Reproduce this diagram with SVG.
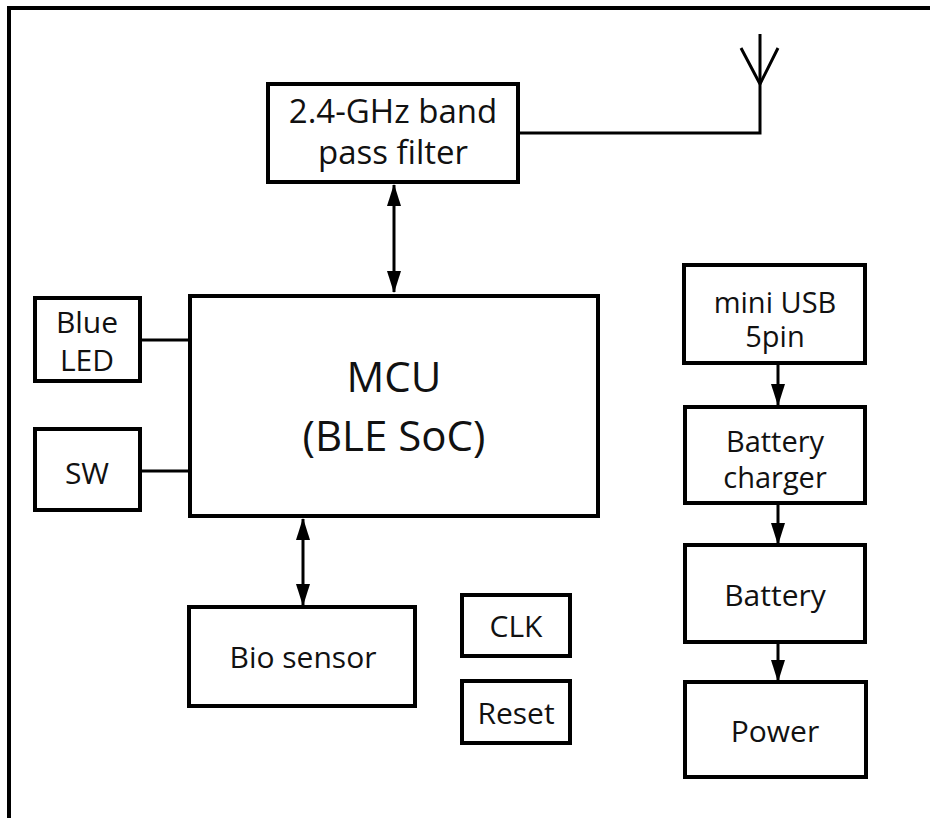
<svg xmlns="http://www.w3.org/2000/svg" width="930" height="818" viewBox="0 0 930 818">
<style>
.box{fill:#fff;stroke:#000;stroke-width:4}
.ln{fill:none;stroke:#000;stroke-width:3}
text{font-family:"Open Sans","Noto Sans","DejaVu Sans",sans-serif;font-size:30px;fill:#111;text-anchor:middle}
.big{font-size:42px}
.flt{font-size:33px}
.tw{font-size:29px}
</style>
<defs>
<marker id="ad" markerUnits="userSpaceOnUse" markerWidth="22" markerHeight="14" viewBox="0 0 22 14" refX="21" refY="7" orient="auto-start-reverse">
<path d="M0,0 L22,7 L0,14 Z" fill="#000"/>
</marker>
</defs>
<rect width="930" height="818" fill="#fff"/>
<g id="frame">
<path d="M9,818 V8 H930" fill="none" stroke="#000" stroke-width="4"/>
</g>
<g id="connectors">
<path class="ln" d="M518,133 H760 V34"/>
<path class="ln" d="M760,84 L741,48 M760,84 L778,48"/>
<path class="ln" d="M394,185 V292" marker-start="url(#ad)" marker-end="url(#ad)"/>
<path class="ln" d="M140,340 H190"/>
<path class="ln" d="M140,471 H190"/>
<path class="ln" d="M303,519 V605" marker-start="url(#ad)" marker-end="url(#ad)"/>
<path class="ln" d="M778,364 V405" marker-end="url(#ad)"/>
<path class="ln" d="M778,504 V544" marker-end="url(#ad)"/>
<path class="ln" d="M778,643 V681" marker-end="url(#ad)"/>
</g>
<g id="filter">
<rect class="box" x="268" y="84" width="250" height="98"/>
<text class="flt" x="393" y="123">2.4-GHz band</text>
<text class="flt" x="393" y="164">pass filter</text>
</g>
<g id="mcu">
<rect class="box" x="190" y="296" width="408" height="220"/>
<text class="big" x="394" y="392">MCU</text>
<text class="big" x="394" y="451">(BLE SoC)</text>
</g>
<g id="blueled">
<rect class="box" x="35" y="298" width="105" height="83"/>
<text x="87" y="333">Blue</text>
<text x="87" y="371">LED</text>
</g>
<g id="sw">
<rect class="box" x="35" y="429" width="105" height="81"/>
<text x="87" y="484">SW</text>
</g>
<g id="biosensor">
<rect class="box" x="189" y="607" width="226" height="99"/>
<text x="303" y="668">Bio sensor</text>
</g>
<g id="clk">
<rect class="box" x="462" y="595" width="108" height="61"/>
<text x="516" y="637">CLK</text>
</g>
<g id="reset">
<rect class="box" x="462" y="681" width="108" height="62"/>
<text x="516" y="724">Reset</text>
</g>
<g id="usb">
<rect class="box" x="684" y="265" width="181" height="98"/>
<text class="tw" x="775" y="313">mini USB</text>
<text class="tw" x="775" y="347">5pin</text>
</g>
<g id="charger">
<rect class="box" x="685" y="407" width="180" height="96"/>
<text class="tw" x="775" y="452">Battery</text>
<text class="tw" x="775" y="488">charger</text>
</g>
<g id="battery">
<rect class="box" x="685" y="545" width="180" height="97"/>
<text x="775" y="606">Battery</text>
</g>
<g id="power">
<rect class="box" x="685" y="682" width="181" height="95"/>
<text x="775" y="742">Power</text>
</g>
</svg>
